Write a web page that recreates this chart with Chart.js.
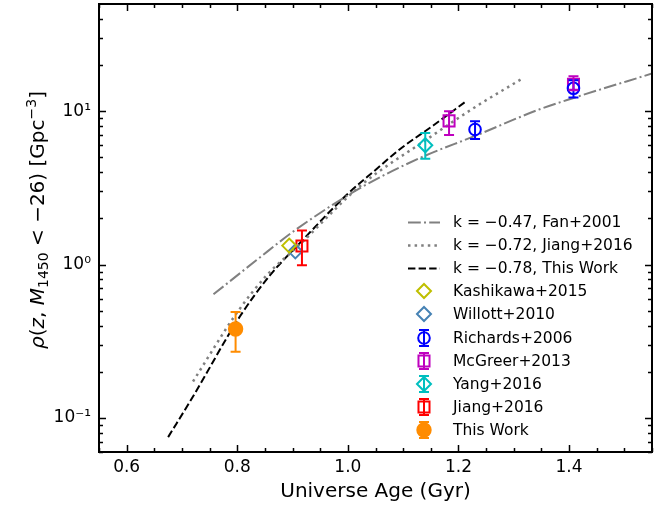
<!DOCTYPE html>
<html>
<head>
<meta charset="utf-8">
<script src="https://cdn.jsdelivr.net/npm/chart.js@4.4.0/dist/chart.umd.min.js"></script>
<style>
  html, body { margin: 0; padding: 0; background: #fff; }
</style>
</head>
<body>
<canvas id="chart" width="670" height="508"></canvas>
<script>
// Fit curves
const fanAge = [0.757, 0.835, 0.907, 1.022, 1.130, 1.230, 1.347, 1.408, 1.550];
const fanRho = [0.64, 1.07, 1.70, 3.15, 4.95, 6.9, 10.3, 12.2, 17.6];
const jiangFitAge = [0.720, 0.799, 0.853, 0.913, 1.022, 1.143, 1.233, 1.314];
const jiangFitRho = [0.173, 0.483, 0.85, 1.35, 3.25, 6.56, 10.8, 16.2];
const thisFitAge = [0.675, 0.720, 0.805, 0.859, 0.913, 0.998, 1.052, 1.094, 1.155, 1.215];
const thisFitRho = [0.075, 0.138, 0.46, 0.85, 1.38, 2.85, 4.2, 5.65, 8.1, 11.7];

// Measurements
const kashikawaAge = [0.894];
const kashikawaRho = [1.33];
const willottAge = [0.905];
const willottRho = [1.22];
const richardsAge = [1.230, 1.408];
const richardsRho = [7.6, 14.1];
const richardsErrLo = [1.0, 1.8];
const richardsErrHi = [1.0, 1.8];
const mcgreerAge = [1.183, 1.408];
const mcgreerRho = [8.65, 15.0];
const mcgreerErrLo = [1.65, 1.3];
const mcgreerErrHi = [1.35, 1.9];
const yangAge = [1.14];
const yangRho = [6.0];
const yangErrLo = [1.1];
const yangErrHi = [1.2];
const jiangAge = [0.917];
const jiangRho = [1.32];
const jiangErrLo = [0.33];
const jiangErrHi = [0.35];
const thisAge = [0.797];
const thisRho = [0.38];
const thisErrLo = [0.11];
const thisErrHi = [0.11];

// Axis ticks
const xMin = 0.55, xMax = 1.55, yMin = 0.06, yMax = 50;
const xMajor = [0.6, 0.8, 1.0, 1.2, 1.4];
const xMinor = [0.55, 0.65, 0.7, 0.75, 0.85, 0.9, 0.95, 1.05, 1.1, 1.15, 1.25, 1.3, 1.35, 1.45, 1.5, 1.55];
const yMajor = [0.1, 1, 10];
const yMinor = [0.06, 0.07, 0.08, 0.09, 0.2, 0.3, 0.4, 0.5, 0.6, 0.7, 0.8, 0.9,
                2, 3, 4, 5, 6, 7, 8, 9, 20, 30, 40];
const yTickText = { 0.1: '10\u207B\u00B9', 1: '10\u2070', 10: '10\u00B9' };

const FONT = "'DejaVu Sans', sans-serif";
const zip = (xs, ys) => xs.map((x, i) => ({ x: x, y: ys[i] }));

const lineSet = (label, xs, ys, color, dash, width) => ({
    label: label, data: zip(xs, ys), showLine: true, pointRadius: 0,
    borderColor: color, borderWidth: width, borderDash: dash,
    cubicInterpolationMode: 'monotone', fill: false, order: 2
});

const pointSet = (label, xs, ys, color, style, radius, filled, lo, hi) => ({
    label: label, data: zip(xs, ys), showLine: false,
    pointStyle: style, pointRadius: radius, pointBorderWidth: 2,
    pointBorderColor: color, borderColor: color,
    pointBackgroundColor: filled ? color : 'rgba(0,0,0,0)',
    backgroundColor: filled ? color : 'rgba(0,0,0,0)',
    errLo: lo, errHi: hi, order: 1
});

const datasets = [
    lineSet('k = \u22120.47, Fan+2001', fanAge, fanRho, '#808080', [12.8, 3.2, 2, 3.2], 2),
    lineSet('k = \u22120.72, Jiang+2016', jiangFitAge, jiangFitRho, '#808080', [2.5, 4.1], 2.5),
    lineSet('k = \u22120.78, This Work', thisFitAge, thisFitRho, '#000000', [7.4, 3.2], 2),
    pointSet('Kashikawa+2015', kashikawaAge, kashikawaRho, '#bfbf00', 'rectRot', 7, false),
    pointSet('Willott+2010', willottAge, willottRho, '#4682b4', 'rectRot', 7, false),
    pointSet('Richards+2006', richardsAge, richardsRho, '#0000ff', 'circle', 5.8, false, richardsErrLo, richardsErrHi),
    pointSet('McGreer+2013', mcgreerAge, mcgreerRho, '#bf00bf', 'rect', 7.8, false, mcgreerErrLo, mcgreerErrHi),
    pointSet('Yang+2016', yangAge, yangRho, '#00bfbf', 'rectRot', 7, false, yangErrLo, yangErrHi),
    pointSet('Jiang+2016', jiangAge, jiangRho, '#ff0000', 'rect', 7.8, false, jiangErrLo, jiangErrHi),
    pointSet('This Work', thisAge, thisRho, '#ff8c00', 'circle', 6.7, true, thisErrLo, thisErrHi)
];

// error bars, frame with inward ticks, axis titles and legend
const decorations = {
    id: 'decorations',
    afterDatasetsDraw(chart) {
        const ctx = chart.ctx;
        const y = chart.scales.y;
        chart.data.datasets.forEach((ds, i) => {
            if (!ds.errLo) return;
            const meta = chart.getDatasetMeta(i);
            ds.data.forEach((d, j) => {
                const px = meta.data[j].x;
                const top = y.getPixelForValue(d.y + ds.errHi[j]);
                const bot = y.getPixelForValue(d.y - ds.errLo[j]);
                ctx.save();
                ctx.strokeStyle = ds.borderColor;
                ctx.lineWidth = 2;
                ctx.beginPath();
                ctx.moveTo(px, top); ctx.lineTo(px, bot);
                ctx.moveTo(px - 5, top); ctx.lineTo(px + 5, top);
                ctx.moveTo(px - 5, bot); ctx.lineTo(px + 5, bot);
                ctx.stroke();
                ctx.restore();
            });
        });
    },
    afterDraw(chart) {
        const ctx = chart.ctx;
        const a = chart.chartArea;
        const xs = chart.scales.x, ys = chart.scales.y;
        ctx.save();
        ctx.strokeStyle = '#000';

        // ticks on all four sides, pointing inwards
        ctx.lineWidth = 1.5;
        ctx.beginPath();
        const xTick = (v, len) => {
            const p = Math.round(xs.getPixelForValue(v)) + 0.5;
            ctx.moveTo(p, a.bottom); ctx.lineTo(p, a.bottom - len);
            ctx.moveTo(p, a.top); ctx.lineTo(p, a.top + len);
        };
        const yTick = (v, len) => {
            const p = Math.round(ys.getPixelForValue(v)) + 0.5;
            ctx.moveTo(a.left, p); ctx.lineTo(a.left + len, p);
            ctx.moveTo(a.right, p); ctx.lineTo(a.right - len, p);
        };
        xMajor.forEach(v => xTick(v, 7));
        xMinor.forEach(v => xTick(v, 4));
        yMajor.forEach(v => yTick(v, 7));
        yMinor.forEach(v => yTick(v, 4));
        ctx.stroke();

        ctx.lineWidth = 2;
        ctx.strokeRect(a.left, a.top, a.right - a.left, a.bottom - a.top);

        // x title
        ctx.fillStyle = '#000';
        ctx.font = '20px ' + FONT;
        ctx.textAlign = 'center';
        ctx.textBaseline = 'middle';
        ctx.fillText('Universe Age (Gyr)', (a.left + a.right) / 2, 492);

        // y title, drawn in pieces for italics, subscript and superscript
        const pieces = [
            { t: '\u03C1', f: 'italic 20px ' + FONT, dy: 0 },
            { t: '(', f: '20px ' + FONT, dy: 0 },
            { t: 'z', f: 'italic 20px ' + FONT, dy: 0 },
            { t: ', ', f: '20px ' + FONT, dy: 0 },
            { t: 'M', f: 'italic 20px ' + FONT, dy: 0 },
            { t: '1450', f: '14px ' + FONT, dy: 4 },
            { t: ' < \u221226) [Gpc', f: '20px ' + FONT, dy: 0 },
            { t: '\u22123', f: '14px ' + FONT, dy: -8 },
            { t: ']', f: '20px ' + FONT, dy: 0 }
        ];
        let total = 0;
        pieces.forEach(p => { ctx.font = p.f; p.w = ctx.measureText(p.t).width; total += p.w; });
        ctx.translate(37, (a.top + a.bottom) / 2 - 8);
        ctx.rotate(-Math.PI / 2);
        ctx.textAlign = 'left';
        ctx.textBaseline = 'alphabetic';
        let cx = -total / 2;
        pieces.forEach(p => {
            ctx.font = p.f;
            ctx.fillText(p.t, cx, 7 + p.dy);
            cx += p.w;
        });
        ctx.restore();

        // legend
        ctx.save();
        const rowY0 = 222, rowH = 23.1, hx0 = 408, hx1 = 440, tx = 453;
        chart.data.datasets.forEach((ds, i) => {
            const ry = Math.round(rowY0 + i * rowH);
            ctx.strokeStyle = ds.borderColor;
            if (ds.showLine) {
                ctx.lineWidth = ds.borderWidth;
                ctx.setLineDash(ds.borderDash);
                ctx.beginPath();
                ctx.moveTo(hx0, ry + 0.5); ctx.lineTo(hx1, ry + 0.5);
                ctx.stroke();
                ctx.setLineDash([]);
            } else {
                const mx = (hx0 + hx1) / 2;
                if (ds.errLo) {
                    ctx.lineWidth = 2;
                    ctx.beginPath();
                    ctx.moveTo(mx, ry - 8); ctx.lineTo(mx, ry + 8);
                    ctx.moveTo(mx - 5, ry - 8); ctx.lineTo(mx + 5, ry - 8);
                    ctx.moveTo(mx - 5, ry + 8); ctx.lineTo(mx + 5, ry + 8);
                    ctx.stroke();
                }
                ctx.fillStyle = ds.pointBackgroundColor;
                ctx.lineWidth = 2;
                Chart.helpers.drawPoint(ctx, {
                    pointStyle: ds.pointStyle, radius: ds.pointRadius,
                    rotation: 0, borderWidth: 2
                }, mx, ry);
            }
            ctx.fillStyle = '#000';
            ctx.font = '15.5px ' + FONT;
            ctx.textAlign = 'left';
            ctx.textBaseline = 'middle';
            ctx.fillText(ds.label, tx, ry + 1);
        });
        ctx.restore();
    }
};

// keep Chart.js from reserving room for tick labels that overhang the plot box
const fixBox = size => s => {
    Object.assign(s, size);
    s.getPadding = () => ({ left: 0, top: 0, right: 0, bottom: 0 });
};

new Chart(document.getElementById('chart'), {
    type: 'scatter',
    data: { datasets: datasets },
    options: {
        responsive: false,
        animation: false,
        devicePixelRatio: 1,
        // autoPadding off, or the big markers push the plot top down
        layout: { autoPadding: false, padding: { left: 0, right: 18, top: 4, bottom: 0 } },
        plugins: { legend: { display: false }, tooltip: { enabled: false } },
        scales: {
            x: {
                type: 'linear', min: xMin, max: xMax,
                grid: { display: false, drawTicks: false },
                border: { display: false },
                afterBuildTicks: s => { s.ticks = xMajor.map(v => ({ value: v })); },
                afterFit: fixBox({ height: 56 }),
                ticks: {
                    padding: 5, color: '#000', autoSkip: false, maxRotation: 0,
                    font: { family: FONT, size: 17 },
                    callback: v => v.toFixed(1)
                }
            },
            y: {
                type: 'logarithmic', min: yMin, max: yMax,
                grid: { display: false, drawTicks: false },
                border: { display: false },
                afterBuildTicks: s => { s.ticks = yMajor.map(v => ({ value: v })); },
                afterFit: fixBox({ width: 99 }),
                ticks: {
                    padding: 8, color: '#000', autoSkip: false,
                    font: { family: FONT, size: 17 },
                    callback: v => yTickText[v] || ''
                }
            }
        }
    },
    plugins: [decorations]
});
</script>
</body>
</html>
